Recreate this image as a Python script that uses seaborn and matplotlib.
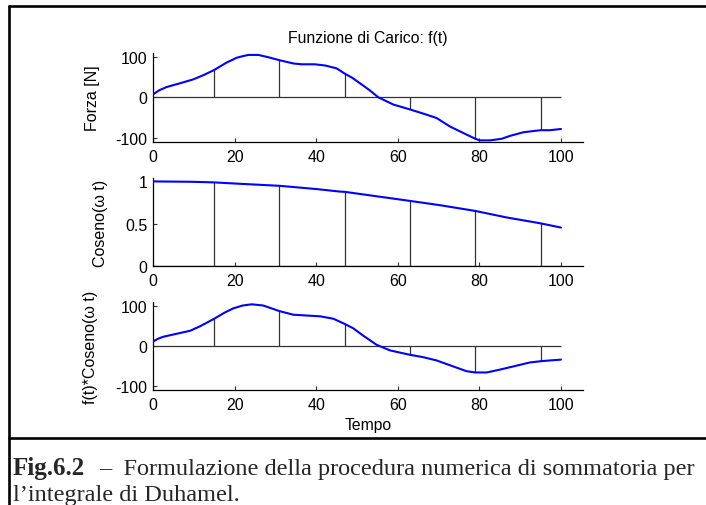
import numpy as np
import pandas as pd
import seaborn as sns
import matplotlib
matplotlib.use("Agg")
import matplotlib.pyplot as plt
from matplotlib.lines import Line2D

# ---------------- data ----------------
t_force = [0, 1.5, 3.3, 6.5, 9.9, 12.5, 15, 18, 20.5, 22, 23.4, 25.8, 28, 31, 34.4,
           36.4, 39.6, 42.2, 45, 47, 48.8, 50.5, 53, 55.2, 58.9, 63, 67.1, 69.5,
           72.8, 76.9, 79, 80.1, 82.6, 85.5, 87.5, 90.8, 95, 97.3, 100]
force = [7, 17, 25, 34, 44, 55, 67, 85, 97, 101, 104, 104, 99, 91, 83,
         81, 81, 78, 71, 58, 48, 36, 18, 0, -18, -30, -43, -51,
         -72, -92, -102, -106, -106, -102, -95, -86, -81, -81, -78]

t_cos = [0, 10, 15, 20, 31, 40, 45.8, 47, 54, 63, 70.3, 79, 86.7, 95, 100]
coseno = [1.0, 0.995, 0.988, 0.975, 0.948, 0.91, 0.88, 0.877, 0.83, 0.77, 0.72,
          0.652, 0.575, 0.506, 0.456]

t_prod = [0, 1.2, 2.5, 6, 9.1, 11.5, 15, 17.5, 19.7, 22, 24.2, 27, 31, 34.4, 37.7,
          41, 44.2, 47, 49.1, 51.5, 54.8, 58.1, 63, 66.3, 69.5, 73.6, 76.9, 79,
          81.8, 85, 88.3, 92.4, 95, 97.3, 100]
prodotto = [10, 17, 22, 30, 37, 48, 67, 82, 93, 100, 103, 100, 86, 77, 75,
            73, 67, 54, 43, 25, 2, -12, -23, -29, -37, -52, -64, -67,
            -67, -60, -52, -42, -39, -37, -35]

t_stem = [15, 31, 47, 63, 79, 95]
stem_force = [67, 91, 58, -30, -102, -81]
stem_cos = [0.988, 0.948, 0.877, 0.77, 0.652, 0.506]
stem_prod = [67, 86, 54, -23, -67, -39]

x_ticks = [0, 20, 40, 60, 80, 100]
y_ticks_force = [-100, 0, 100]
y_ticks_cos = [0, 0.5, 1]
y_ticklabels_cos = ["0", "0.5", "1"]

title = "Funzione di Carico: f(t)"
ylabels = ["Forza [N]", "Coseno(\u03c9 t)", "f(t)*Coseno(\u03c9 t)"]
xlabel = "Tempo"
caption_bold = "Fig.6.2"
caption_rest = "\u2013  Formulazione della procedura numerica di sommatoria per"
caption_line2 = "l\u2019integrale di Duhamel."

# ---------------- figure ----------------
sns.set_theme(style="white")
plt.rcParams["font.family"] = ["Liberation Sans", "DejaVu Sans"]

W, H = 706, 506
fig = plt.figure(figsize=(W / 100, H / 100), dpi=100)
fig.patch.set_facecolor("white")

def px_axes(x0, x1, ytop, ybot):
    return fig.add_axes([x0 / W, 1 - ybot / H, (x1 - x0) / W, (ybot - ytop) / H])

ax1 = px_axes(153, 583, 54.3, 143)
ax2 = px_axes(153, 583, 179, 267.3)
ax3 = px_axes(153, 583, 303.3, 390.7)

panels = [
    (ax1, t_force, force, stem_force, (-110, 108), y_ticks_force, None),
    (ax2, t_cos, coseno, stem_cos, (0, 1.04), y_ticks_cos, y_ticklabels_cos),
    (ax3, t_prod, prodotto, stem_prod, (-110, 108), y_ticks_force, None),
]

tick_fs = 11.5
for ax, tx, ty, sv, ylim, yt, ytl in panels:
    ax.set_facecolor("white")
    df = pd.DataFrame({"t": tx, "v": ty})
    # stems and baseline
    ax.vlines(t_stem, 0, sv, color="#333333", linewidth=0.9, zorder=2)
    ax.hlines(0, x_ticks[0], x_ticks[-1], color="#333333", linewidth=0.9, zorder=2)
    sns.lineplot(data=df, x="t", y="v", ax=ax, color="#0000ff", linewidth=1.5,
                 estimator=None, sort=False, zorder=3)
    ax.set_xlim(0, 105.4)
    ax.set_ylim(*ylim)
    ax.set_xticks(x_ticks)
    ax.set_xticklabels([str(v) for v in x_ticks])
    ax.set_yticks(yt)
    if ytl is not None:
        ax.set_yticklabels(ytl)
    else:
        ax.set_yticklabels([str(v) for v in yt])
    for s in ["top", "right"]:
        ax.spines[s].set_visible(False)
    for s in ["left", "bottom"]:
        ax.spines[s].set_visible(True)
        ax.spines[s].set_color("black")
        ax.spines[s].set_linewidth(0.9)
    ax.tick_params(axis="both", direction="in", length=3, width=0.8, color="#333333",
                   labelsize=tick_fs, labelcolor="black", bottom=True, left=True)
    ax.tick_params(axis="x", pad=5)
    ax.tick_params(axis="y", pad=4)
    ax.set_xlabel("")
    ax.set_ylabel("")
    ax.grid(False)

fs_lab = 11.5
ax1.set_title(title, fontsize=11.3, pad=8, color="black")
for ax, lab, lx in zip([ax1, ax2, ax3], ylabels, [-0.123, -0.105, -0.128]):
    ax.set_ylabel(lab, fontsize=fs_lab, color="black")
    ax.yaxis.set_label_coords(lx, 0.5)
ax3.set_xlabel(xlabel, fontsize=11.3, color="black", labelpad=4)

# ---------------- outer frame and caption ----------------
def fx(x):
    return x / W

def fy(y):
    return 1 - y / H

lw = 1.9
fig.add_artist(Line2D([fx(8.5), fx(706)], [fy(6.7), fy(6.7)], color="black", linewidth=lw))
fig.add_artist(Line2D([fx(8.5), fx(8.5)], [fy(6.7), fy(506)], color="black", linewidth=lw))
fig.add_artist(Line2D([fx(8.5), fx(706)], [fy(438.7), fy(438.7)], color="black", linewidth=lw))

cap_fs = 17.5
serif = ["Liberation Serif", "DejaVu Serif"]
fig.text(fx(12.7), fy(475.5), caption_bold, fontsize=cap_fs + 0.5, fontweight="bold",
         family=serif, va="baseline", ha="left")
fig.text(fx(99), fy(475.5), caption_rest, fontsize=cap_fs,
         family=serif, va="baseline", ha="left")
fig.text(fx(12.7), fy(501.5), caption_line2, fontsize=cap_fs,
         family=serif, va="baseline", ha="left")

fig.savefig("out.png", dpi=100, facecolor="white")
